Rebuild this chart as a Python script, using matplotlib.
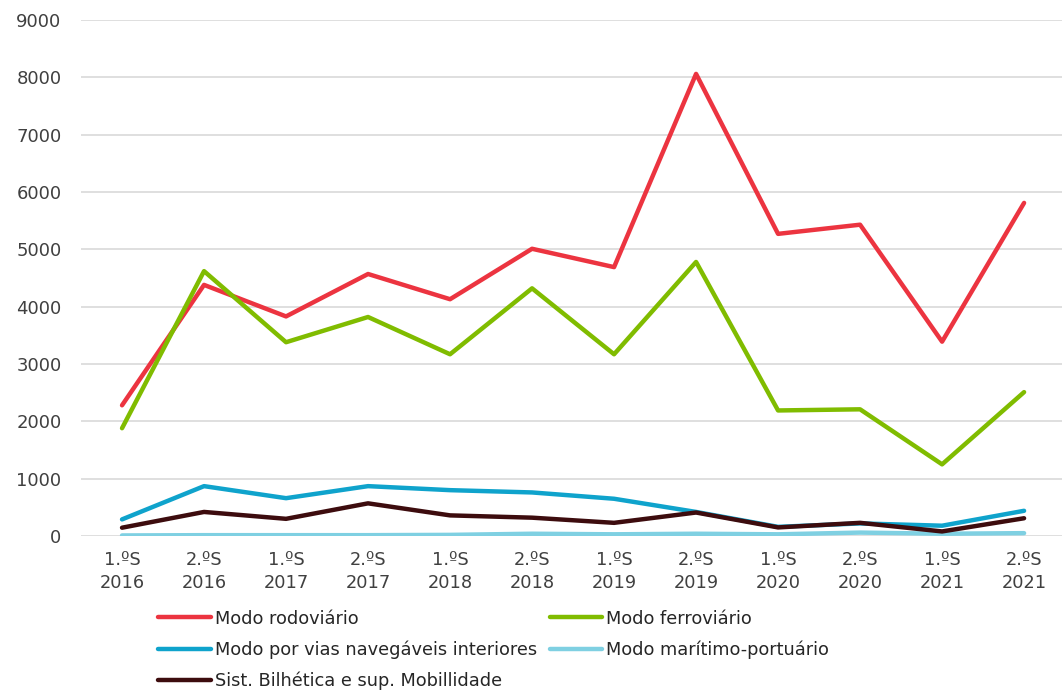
import matplotlib.pyplot as plt

plt.rcParams['font.family'] = ['DejaVu Sans']

# Semesters
semesters = ['1.ºS\n2016', '2.ºS\n2016', '1.ºS\n2017', '2.ºS\n2017', '1.ºS\n2018', '2.ºS\n2018',
             '1.ºS\n2019', '2.ºS\n2019', '1.ºS\n2020', '2.ºS\n2020', '1.ºS\n2021', '2.ºS\n2021']

# Values per transport mode
rodoviario = [2280, 4380, 3830, 4570, 4130, 5010, 4690, 8060, 5270, 5430, 3390, 5810]
ferroviario = [1880, 4620, 3380, 3820, 3170, 4320, 3170, 4780, 2190, 2210, 1250, 2510]
vias_navegaveis = [290, 870, 660, 870, 800, 760, 650, 420, 160, 220, 180, 440]
maritimo_portuario = [10, 15, 15, 15, 20, 40, 30, 40, 30, 60, 40, 50]
bilhetica = [145, 420, 300, 570, 360, 320, 230, 410, 150, 230, 80, 310]

series = [
    ('Modo rodoviário', rodoviario, '#EC3440'),
    ('Modo ferroviário', ferroviario, '#80BC00'),
    ('Modo por vias navegáveis interiores', vias_navegaveis, '#0FA3CC'),
    ('Modo marítimo-portuário', maritimo_portuario, '#7FD0E2'),
    ('Sist. Bilhética e sup. Mobillidade', bilhetica, '#3D0C0E'),
]

fig = plt.figure(figsize=(10.62, 6.92), dpi=100)
ax = fig.add_axes([0.0763, 0.2254, 0.9266, 0.7457])

x = range(len(semesters))
handles = {}
for name, vals, color in series:
    line, = ax.plot(x, vals, color=color, linewidth=3.2, label=name, solid_capstyle='round', zorder=3)
    handles[name] = line

ax.set_xlim(-0.5, len(semesters) - 0.5)
ax.set_ylim(0, 9000)
ax.set_yticks(range(0, 9001, 1000))
ax.set_xticks(list(x))
ax.set_xticklabels(semesters, fontsize=12.8, color='#404040', linespacing=1.3)
ax.tick_params(axis='y', labelsize=13, labelcolor='#404040', length=0, pad=14)
ax.tick_params(axis='x', length=0, pad=11)
ax.grid(axis='y', color='#D9D9D9', linewidth=1.2)
ax.set_axisbelow(True)
for s in ax.spines.values():
    s.set_visible(False)

# Legend: left column first, then right column
order = ['Modo rodoviário', 'Modo por vias navegáveis interiores', 'Sist. Bilhética e sup. Mobillidade',
         'Modo ferroviário', 'Modo marítimo-portuário']
leg = fig.legend([handles[n] for n in order], order, loc='upper left', bbox_to_anchor=(0.149, 0.119),
                 ncol=2, frameon=False, fontsize=12.8, handlelength=2.95, handletextpad=0.22,
                 columnspacing=0.75, labelspacing=0.72, borderpad=0, borderaxespad=0)
for t in leg.get_texts():
    t.set_color('#262626')

fig.savefig('out.png', dpi=100)
